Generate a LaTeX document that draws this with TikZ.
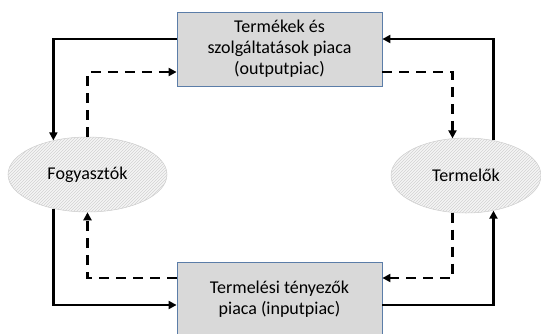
\documentclass[tikz,border=0pt]{standalone}
\usepackage{fontspec}
\setmainfont{Carlito}
\usetikzlibrary{arrows.meta,shapes.geometric,patterns}
\definecolor{boxgray}{HTML}{D9D9D9}
\definecolor{boxline}{HTML}{5B7DA8}
\begin{document}
\begin{tikzpicture}[x=1pt,y=-1pt,
    market/.style={draw=boxline, line width=0.8pt, fill=boxgray, minimum width=205pt, minimum height=74pt, align=center, inner sep=0pt},
    agent/.style={ellipse, draw=gray!40, line width=0.5pt, fill=gray!8, postaction={pattern=north east lines, pattern color=gray!35}, inner sep=0pt},
    flow/.style={line width=2.3pt, -{Triangle[length=8pt,width=8pt]}},
    money/.style={flow, dash pattern=on 10pt off 7pt}]
    \useasboundingbox (0,0) rectangle (541,333);
    \clip (0,0) rectangle (541,333);
    \fontsize{18}{21}\selectfont

    \node[market] (out) at (279.5,49) {Termékek és\\szolgáltatások piaca\\(outputpiac)};
    \node[market] (in) at (279.5,299) {Termelési tényezők\\piaca (inputpiac)};
    \node[agent, minimum width=159pt, minimum height=75pt] (cons) at (87.5,174.5) {Fogyasztók};
    \node[agent, minimum width=150pt, minimum height=75pt] (prod) at (466,175.5) {Termelők};

    % goods and services
    \draw[flow] ([yshift=10pt]out.west) -| (cons.135);
    \draw[flow] (prod.52) |- ([yshift=10pt]out.east);
    % payments on the output market
    \draw[money] (cons.north) |- ([yshift=-23pt]out.west);
    \draw[money] ([yshift=-23pt]out.east) -| (prod.110);

    % factors of production
    \draw[flow] (cons.225) |- ([yshift=-6pt]in.west);
    \draw[flow] ([yshift=-6pt]in.east) -| (prod.308);
    % incomes from the input market
    \draw[money] ([yshift=21pt]in.west) -| (cons.south);
    \draw[money] (prod.250) |- ([yshift=21pt]in.east);
\end{tikzpicture}
\end{document}
